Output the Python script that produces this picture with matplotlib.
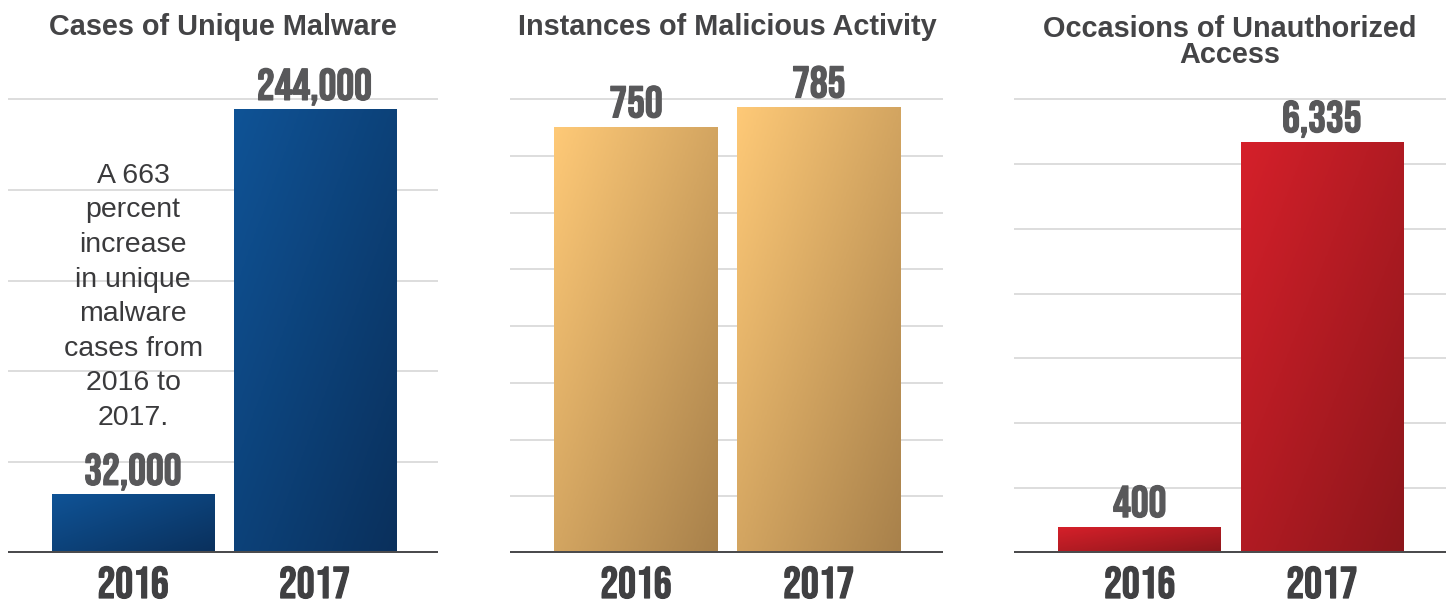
import numpy as np
import matplotlib.pyplot as plt
import matplotlib.patheffects as pe
from matplotlib.colors import LinearSegmentedColormap

# Data for the three panels
years = ['2016', '2017']
titles = ['Cases of Unique Malware',
          'Instances of Malicious Activity',
          'Occasions of Unauthorized\nAccess']
malware_cases = [32000, 244000]
malicious_activity = [750, 785]
unauthorized_access = [400, 6335]
grid_steps = [50000, 100, 1000]
grid_tops = [250000, 800, 7000]
note = 'A 663\npercent\nincrease\nin unique\nmalware\ncases from\n2016 to\n2017.'

series = [malware_cases, malicious_activity, unauthorized_access]
gradients = [('#0f5396', '#0a305c'),
             ('#fec977', '#a8814b'),
             ('#d5202a', '#8c161b')]

label_font = ['Bebas Neue', 'DejaVu Sans']
text_font = ['Liberation Sans', 'DejaVu Sans']

fig = plt.figure(figsize=(14.48, 6.02), dpi=100)

lefts = [8, 510, 1014]
widths = [430, 433, 432]
base_px, top_px, grid_px = 553, 60, 99
title_x = [223, 727, 1230]
px = 72 / 100  # points per pixel

for k in range(3):
    vals = series[k]
    ax = fig.add_axes([lefts[k] / 1448, (602 - base_px) / 602,
                       widths[k] / 1448, (base_px - top_px) / 602])
    ymax = grid_tops[k] * (base_px - top_px) / (base_px - grid_px)
    for g in np.arange(grid_steps[k], grid_tops[k] + 1, grid_steps[k]):
        ax.axhline(g, color='#dadada', lw=1.3, zorder=0)

    cmap = LinearSegmentedColormap.from_list('g%d' % k, gradients[k])
    bw = 0.893
    for i, v in enumerate(vals):
        u, w = np.meshgrid(np.linspace(0, 1, 60), np.linspace(0, 1, 200))
        t = 0.5 * (u + w)
        ax.imshow(t, cmap=cmap, extent=(i - bw / 2, i + bw / 2, 0, v),
                  origin='upper', aspect='auto', zorder=2, vmin=0, vmax=1)
        ax.annotate(f'{v:,}', xy=(i, v), xytext=(0, 10 * px), textcoords='offset points',
                    ha='center', va='baseline', fontsize=32,
                    color='#58585a', family=label_font, zorder=4,
                    path_effects=[pe.withStroke(linewidth=0.9, foreground='#58585a')])
        ax.annotate(years[i], xy=(i, 0), xycoords=('data', 'axes fraction'),
                    xytext=(0, -45 * px), textcoords='offset points',
                    ha='center', va='baseline', fontsize=32,
                    color='#404042', family=label_font, annotation_clip=False,
                    path_effects=[pe.withStroke(linewidth=0.9, foreground='#404042')])

    ax.axhline(0, color='#4b4b4d', lw=4 * px, zorder=5)
    ax.set_xlim(-0.69, 1.68)
    ax.set_ylim(0, ymax)
    ax.axis('off')

    if k == 0:
        ax.text(0, 141000, note, ha='center', va='center',
                fontsize=20.5, color='#3a3a3c', family=text_font,
                linespacing=1.43, zorder=3)

    for j, line in enumerate(titles[k].split('\n')):
        base = 35 if '\n' not in titles[k] else 37
        fig.text(title_x[k] / 1448, 1 - (base + 26 * j) / 602, line,
                 ha='center', va='baseline', fontsize=20.8, fontweight='bold',
                 color='#444446', family=text_font)

fig.savefig('out.png', dpi=100)
